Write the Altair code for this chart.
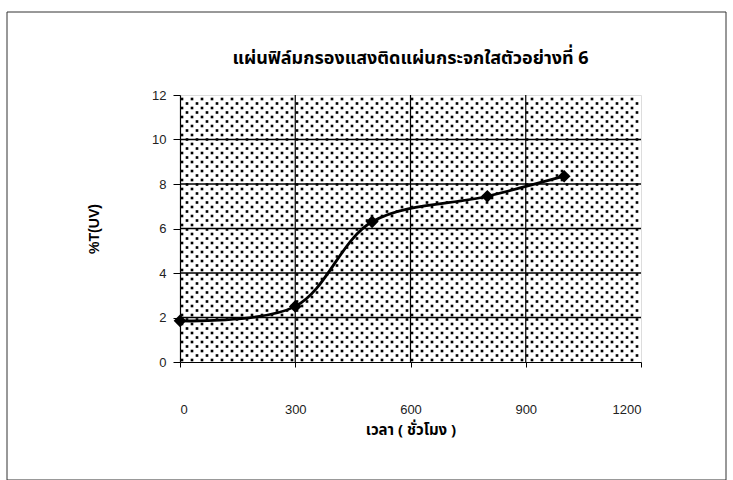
import altair as alt
import pandas as pd

# ---- data ----
hours = [0, 300, 500, 800, 1000]
t_uv = [1.85, 2.5, 6.3, 7.45, 8.35]
x_ticks = [0, 300, 600, 900, 1200]
y_ticks = [0, 2, 4, 6, 8, 10, 12]
y_grid = [2, 4, 6, 8, 10]
x_grid = [300, 600, 900]

chart_title = "แผ่นฟิล์มกรองแสงติดแผ่นกระจกใสตัวอย่างที่ 6"
x_title = "เวลา ( ชั่วโมง )"
y_title = "%T(UV)"

W, H = 461, 267
xs = alt.Scale(domain=[0, 1200], nice=False, zero=False)
ys = alt.Scale(domain=[0, 12], nice=False, zero=False)

df = pd.DataFrame({"h": hours, "t": t_uv})
grid_y_df = pd.DataFrame({"v": y_grid})
grid_x_df = pd.DataFrame({"v": x_grid})

x_axis = alt.Axis(
    values=x_ticks, title=x_title, grid=False, format="d",
    domainColor="black", domainWidth=1.2, tickColor="black", tickSize=5,
    labelPadding=36, labelFont="Liberation Sans", labelFontSize=13,
    labelColor="#222", titleFont="Noto Sans Thai, Noto Sans, sans-serif",
    titleFontSize=15, titleFontWeight="bold", titleColor="black", titlePadding=6,
)
y_axis = alt.Axis(
    values=y_ticks, title=y_title, grid=False, format="d",
    domainColor="black", domainWidth=1.2, tickColor="black", tickSize=7,
    labelPadding=7, labelFont="Liberation Sans", labelFontSize=13,
    labelColor="#222", titleFont="Liberation Sans", titleFontSize=14,
    titleFontWeight="bold", titleColor="black", titlePadding=50,
)

# dotted texture of the plot background (decorative)
NC, NR = 47, 60
pattern = (
    alt.Chart(alt.sequence(0, NC * NR, as_="i"))
    .transform_calculate(r=f"floor(datum.i / {NC})", c=f"datum.i % {NC}")
    .transform_calculate(
        px=f"(datum.c*10 + (datum.r % 2)*5 + 2) * 1200 / {W}",
        py=f"(datum.r*4.5 + 2) * 12 / {H}",
    )
    .transform_filter("datum.px <= 1200 && datum.py <= 12")
    .mark_square(size=7, color="black", opacity=1)
    .encode(
        x=alt.X("px:Q", scale=xs, axis=x_axis),
        y=alt.Y("py:Q", scale=ys, axis=y_axis),
    )
)

hgrid = alt.Chart(grid_y_df).mark_rule(color="black", strokeWidth=1.4).encode(
    y=alt.Y("v:Q", scale=ys, axis=y_axis)
)
vgrid = alt.Chart(grid_x_df).mark_rule(color="black", strokeWidth=1.2).encode(
    x=alt.X("v:Q", scale=xs, axis=x_axis)
)

frame = alt.Chart(pd.DataFrame({"a": [0]})).mark_rect(
    fill=None, stroke="#333", strokeWidth=1, clip=False
).encode(
    x=alt.value(-173), x2=alt.value(546), y=alt.value(-83), y2=alt.value(385)
)

line = alt.Chart(df).mark_line(
    interpolate="catmull-rom", color="black", strokeWidth=2.8
).encode(
    x=alt.X("h:Q", scale=xs, axis=x_axis),
    y=alt.Y("t:Q", scale=ys, axis=y_axis),
)
pts = alt.Chart(df).mark_point(
    shape="diamond", filled=True, size=160, color="black", opacity=1
).encode(
    x=alt.X("h:Q", scale=xs, axis=x_axis),
    y=alt.Y("t:Q", scale=ys, axis=y_axis),
)

chart = (
    alt.layer(pattern, hgrid, vgrid, frame, line, pts)
    .properties(
        width=W, height=H,
        title=alt.TitleParams(
            chart_title, anchor="middle", frame="group", offset=28, dy=84,
            fontSize=18, fontWeight="bold",
            font="Noto Sans Thai, Noto Sans, sans-serif", color="black",
        ),
        autosize=alt.AutoSizeParams(type="none"),
        padding={"left": 180, "top": 95, "right": 92, "bottom": 118},
    )
    .configure_view(stroke=None)
    .configure(background="white")
)

chart.save("out.html", embed_options={"renderer": "svg", "actions": False})
